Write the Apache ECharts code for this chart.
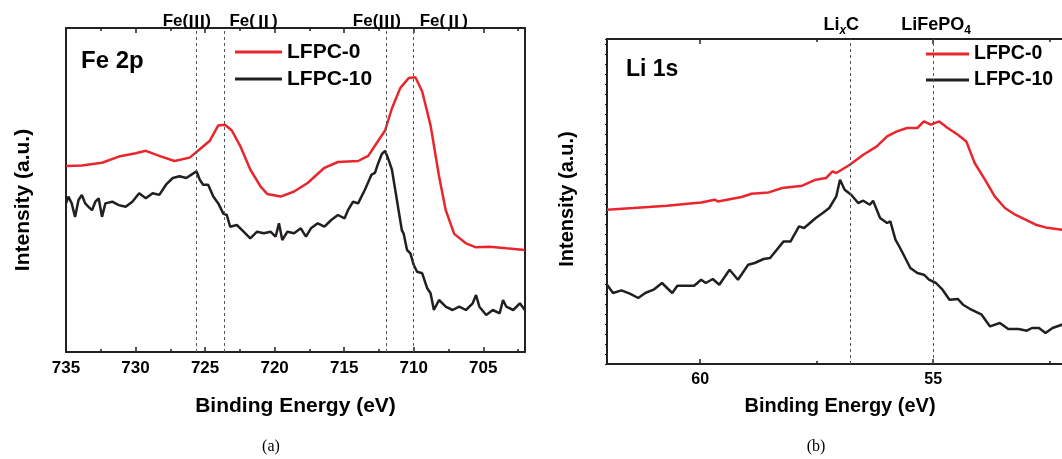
<!DOCTYPE html>
<html><head><meta charset="utf-8">
<script src="https://cdn.jsdelivr.net/npm/echarts@6/dist/echarts.min.js"></script>
<style>html,body{margin:0;padding:0;background:#fff;overflow:hidden}#c{width:1090px;height:459px}</style>
</head><body><div id="c"></div>
<script>
// ---------- data ----------
const fe_LFPC0 = [[735.0,185.9],[733.86,186.6],[732.41,189.3],[731.2,195.4],[729.99,198.8],[729.26,201.2],[728.29,196.1],[727.2,191.0],[726.11,194.4],[725.38,202.8],[724.66,211.3],[724.05,226.6],[723.57,227.3],[723.08,221.5],[722.48,206.2],[721.75,182.5],[721.02,165.6],[720.54,158.1],[719.57,155.4],[718.6,160.5],[717.63,169.0],[716.42,184.2],[715.45,190.0],[714.0,191.0],[713.27,196.1],[712.79,206.2],[712.06,221.5],[711.57,243.5],[710.97,263.9],[710.36,274.0],[709.88,274.7],[709.39,260.5],[708.79,226.6],[708.18,175.7],[707.7,141.8],[707.09,118.1],[706.25,108.7],[705.52,104.7],[704.55,105.3],[703.34,103.7],[702.01,102.0]];
const fe_LFPC10 = [[735.0,148.6],[734.83,155.4],[734.59,148.6],[734.35,135.1],[734.1,152.0],[733.86,157.1],[733.62,148.6],[733.38,145.2],[733.13,141.8],[732.89,150.3],[732.65,153.7],[732.41,135.1],[732.17,148.6],[731.68,150.3],[731.2,146.9],[730.71,145.2],[730.23,150.3],[729.74,158.8],[729.26,153.7],[728.77,158.8],[728.29,157.1],[727.81,167.3],[727.32,174.0],[726.84,175.7],[726.35,174.0],[725.87,178.4],[725.62,180.8],[725.38,172.3],[725.14,167.3],[724.78,167.3],[724.41,155.4],[724.05,148.6],[723.69,138.4],[723.44,137.0],[723.2,125.3],[722.72,127.0],[722.23,120.3],[721.75,113.7],[721.26,120.3],[720.78,118.7],[720.3,120.3],[719.93,115.3],[719.69,128.7],[719.45,112.0],[719.08,120.3],[718.6,118.7],[718.12,123.7],[717.75,115.3],[717.39,123.7],[716.9,128.7],[716.42,125.3],[715.93,132.0],[715.45,137.0],[714.97,133.7],[714.72,142.0],[714.36,150.3],[714.0,148.6],[713.51,162.2],[713.03,177.4],[712.79,179.1],[712.54,189.3],[712.3,197.8],[712.06,201.2],[711.82,192.7],[711.57,182.5],[711.33,162.2],[711.09,141.8],[710.85,121.5],[710.73,118.7],[710.48,102.0],[710.24,98.7],[710.0,87.0],[709.76,80.3],[709.39,78.7],[709.03,63.7],[708.79,58.7],[708.55,42.0],[708.18,52.0],[707.7,45.3],[707.21,42.0],[706.73,45.3],[706.25,42.0],[705.76,48.7],[705.52,57.0],[705.28,45.3],[704.79,37.0],[704.31,42.0],[703.82,38.7],[703.58,52.0],[703.34,45.3],[702.85,42.0],[702.37,48.7],[702.01,42.0]];
const li_LFPC0 = [[62.0,154.3],[61.43,156],[60.71,158.3],[60.27,160.3],[59.98,161.6],[59.69,164.3],[59.62,162.6],[59.11,167],[58.9,170.3],[58.53,171.6],[58.24,176],[57.81,178.3],[57.52,184.3],[57.3,186],[57.16,192.6],[57.08,191],[56.79,199.3],[56.5,209.3],[56.21,217.6],[55.99,227.6],[55.78,232.6],[55.56,236],[55.34,236],[55.2,242.6],[55.05,239.3],[54.87,242.6],[54.69,236],[54.47,229.3],[54.29,222.6],[54.11,201],[53.89,184.3],[53.68,167.6],[53.46,156],[53.24,149.3],[53.02,144.3],[52.8,139.3],[52.59,136.6],[52.24,134.3],[52.1,133.5]];
const li_LFPC10 = [[62.0,79.3],[61.87,71],[61.69,73.6],[61.51,70.3],[61.33,66],[61.18,71],[61.0,74.3],[60.82,81],[60.6,71],[60.49,78.3],[60.13,78.3],[59.98,84.3],[59.88,81],[59.73,85],[59.59,79.3],[59.37,94.3],[59.19,84.3],[58.97,99.3],[58.83,101],[58.64,105],[58.5,106],[58.21,122.6],[58.06,122.6],[57.88,137.6],[57.77,136],[57.52,146],[57.37,151],[57.23,156],[57.08,167.6],[57.0,184.3],[56.9,174.3],[56.76,169.3],[56.61,161],[56.5,163.3],[56.36,159.3],[56.29,163.3],[56.14,146],[55.99,141],[55.92,142.6],[55.81,124.3],[55.71,116],[55.49,96],[55.34,91],[55.2,89.3],[55.09,84.3],[54.94,81],[54.8,74.3],[54.65,64.3],[54.47,65],[54.36,59.3],[54.18,54.3],[53.96,49.3],[53.78,37.6],[53.57,41],[53.39,35],[53.17,35],[52.99,33.3],[52.88,36],[52.73,36],[52.59,31],[52.44,36],[52.24,39.3],[52.1,41]];

const seriesNames = ['LFPC-0', 'LFPC-10'];
const feTicksMajor = [735, 730, 725, 720, 715, 710, 705];
const feTicksMinor = [732.5, 727.5, 722.5, 717.5, 712.5, 707.5, 702.5];
const liTicksMajor = [60, 55];
const liTicksMinor = [57.5, 52.5];
const feRefLines = [725.6, 723.6, 712.0, 710.0];
const feRefLabels = ['{a|Fe(}{r|Ⅲ}{a|)}', '{a|Fe(}{r|Ⅱ}{a|)}', '{a|Fe(}{r|Ⅲ}{a|)}', '{a|Fe(}{r|Ⅱ}{a|)}'];
const liRefLines = [56.78, 55.0];
const liRefLabels = ['{a|Li}{s|x}{a|C}', '{a|LiFePO}{b|4}'];
const feRange = [702, 735];
const liRange = [52, 62];

// ---------- styles ----------
const FONT = 'Arial, "Liberation Sans", sans-serif';
const CJK = '"Noto Sans CJK SC", "Noto Sans CJK JP", sans-serif';
const RED = '#e8262c', BLACK = '#231f20', AX = '#222';
const feLabelOffsets = [-10, 29, -9, 30];
const liLabelOffsets = [-9, 3];

function xAx(grid, range, pos, ticks, len, opts) {
  return Object.assign({
    type: 'value', gridIndex: grid, min: range[0], max: range[1], inverse: true, position: pos,
    axisLine: { show: true, lineStyle: { color: AX, width: 2 } },
    axisTick: { show: true, inside: true, length: len, customValues: ticks, lineStyle: { color: AX, width: 1.5 } },
    axisLabel: { show: false }, splitLine: { show: false }
  }, opts || {});
}
function yAx(grid, max, pos, opts) {
  return Object.assign({
    type: 'value', gridIndex: grid, min: 0, max: max, position: pos,
    axisLine: { show: true, lineStyle: { color: AX, width: 2 } },
    axisTick: { show: false }, axisLabel: { show: false }, splitLine: { show: false }
  }, opts || {});
}
const lbl = (ticks, margin, size) => ({ show: true, customValues: ticks, margin: margin, color: '#000', fontFamily: FONT, fontWeight: 'bold', fontSize: size });

const chart = echarts.init(document.getElementById('c'), null, { renderer: 'canvas' });
const option = {
  animation: false,
  backgroundColor: '#fff',
  grid: [
    { left: 66, top: 28, width: 459, height: 324 },
    { left: 607, top: 39, width: 466, height: 325 }
  ],
  xAxis: [
    xAx(0, feRange, 'bottom', feTicksMajor, 5, { axisLabel: lbl(feTicksMajor, 8, 17), name: 'Binding Energy (eV)', nameLocation: 'middle', nameGap: 44, nameTextStyle: { color: '#000', fontFamily: FONT, fontWeight: 'bold', fontSize: 21 } }),
    xAx(0, feRange, 'bottom', feTicksMinor, 3, { axisLine: { show: false } }),
    xAx(0, feRange, 'top', feTicksMajor, 5),
    xAx(0, feRange, 'top', feTicksMinor, 3, { axisLine: { show: false } }),
    xAx(1, liRange, 'bottom', liTicksMajor, 5, { axisLabel: lbl(liTicksMajor, 8, 16), name: 'Binding Energy (eV)', nameLocation: 'middle', nameGap: 32, nameTextStyle: { color: '#000', fontFamily: FONT, fontWeight: 'bold', fontSize: 20 } }),
    xAx(1, liRange, 'bottom', liTicksMinor, 3, { axisLine: { show: false } }),
    xAx(1, liRange, 'top', liTicksMajor, 5),
    xAx(1, liRange, 'top', liTicksMinor, 3, { axisLine: { show: false } })
  ],
  yAxis: [
    yAx(0, 324, 'left'),
    yAx(0, 324, 'right'),
    yAx(1, 325, 'left', { interval: 10, axisTick: { show: true, inside: false, length: 2, lineStyle: { color: AX, width: 1 } } }),
    yAx(1, 325, 'right')
  ],
  legend: [
    { data: seriesNames, orient: 'vertical', left: 235, top: 41, padding: 0, icon: 'rect', itemWidth: 47, itemHeight: 3, itemGap: 5,
      textStyle: { color: '#000', fontFamily: FONT, fontWeight: 'bold', fontSize: 21, lineHeight: 22 } },
    { data: seriesNames, orient: 'vertical', left: 926, top: 44, padding: 0, icon: 'rect', itemWidth: 43, itemHeight: 3, itemGap: 6,
      textStyle: { color: '#000', fontFamily: FONT, fontWeight: 'bold', fontSize: 19.5, lineHeight: 20 } }
  ],
  title: [
    { text: 'Fe 2p', left: 81, top: 49, padding: 0, textStyle: { color: '#000', fontFamily: FONT, fontWeight: 'bold', fontSize: 24 } },
    { text: 'Li 1s', left: 626, top: 58, padding: 0, textStyle: { color: '#000', fontFamily: FONT, fontWeight: 'bold', fontSize: 23 } }
  ],
  graphic: [
    { type: 'text', x: 23, y: 200, rotation: Math.PI / 2, style: { text: 'Intensity (a.u.)', fill: '#000', font: 'bold 21px ' + FONT, textAlign: 'center', textVerticalAlign: 'middle' } },
    { type: 'text', x: 567, y: 199, rotation: Math.PI / 2, style: { text: 'Intensity (a.u.)', fill: '#000', font: 'bold 20px ' + FONT, textAlign: 'center', textVerticalAlign: 'middle' } },
    { type: 'text', x: 271, y: 447, style: { text: '(a)', fill: '#000', font: '16px "Liberation Serif", "Times New Roman", serif', textAlign: 'center', textVerticalAlign: 'middle' } },
    { type: 'text', x: 816, y: 447, style: { text: '(b)', fill: '#000', font: '16px "Liberation Serif", "Times New Roman", serif', textAlign: 'center', textVerticalAlign: 'middle' } }
  ],
  series: [
    { name: seriesNames[0], type: 'line', xAxisIndex: 0, yAxisIndex: 0, data: fe_LFPC0, symbol: 'none', lineStyle: { color: RED, width: 2.5 }, itemStyle: { color: RED },
      markLine: { silent: true, symbol: ['none', 'none'], lineStyle: { color: '#555', type: [3, 3], width: 1 },
        label: { show: true, position: 'end', distance: -2, color: '#000',
          rich: { a: { fontFamily: FONT, fontWeight: 'bold', fontSize: 17, color: '#000' },
                  r: { fontFamily: CJK, fontWeight: 'bold', fontSize: 17, color: '#000' } } },
        data: feRefLines.map((v, i) => ({ xAxis: v, label: { formatter: feRefLabels[i], offset: [feLabelOffsets[i], 0] } })) } },
    { name: seriesNames[1], type: 'line', xAxisIndex: 0, yAxisIndex: 0, data: fe_LFPC10, symbol: 'none', lineStyle: { color: BLACK, width: 2.5 }, itemStyle: { color: BLACK } },
    { name: seriesNames[0], type: 'line', xAxisIndex: 4, yAxisIndex: 2, data: li_LFPC0, symbol: 'none', lineStyle: { color: RED, width: 2.5 }, itemStyle: { color: RED },
      markLine: { silent: true, symbol: ['none', 'none'], lineStyle: { color: '#555', type: [3, 3], width: 1 },
        label: { show: true, position: 'end', distance: 2, color: '#000',
          rich: { a: { fontFamily: FONT, fontWeight: 'bold', fontSize: 18, color: '#000' },
                  s: { fontFamily: FONT, fontWeight: 'bold', fontStyle: 'italic', fontSize: 12, color: '#000', padding: [12, 0, 0, 0] },
                  b: { fontFamily: FONT, fontWeight: 'bold', fontSize: 12, color: '#000', padding: [12, 0, 0, 0] } } },
        data: liRefLines.map((v, i) => ({ xAxis: v, label: { formatter: liRefLabels[i], offset: [liLabelOffsets[i], 0] } })) } },
    { name: seriesNames[1], type: 'line', xAxisIndex: 4, yAxisIndex: 2, data: li_LFPC10, symbol: 'none', lineStyle: { color: BLACK, width: 2.5 }, itemStyle: { color: BLACK } }
  ]
};
chart.setOption(option);
</script></body></html>
